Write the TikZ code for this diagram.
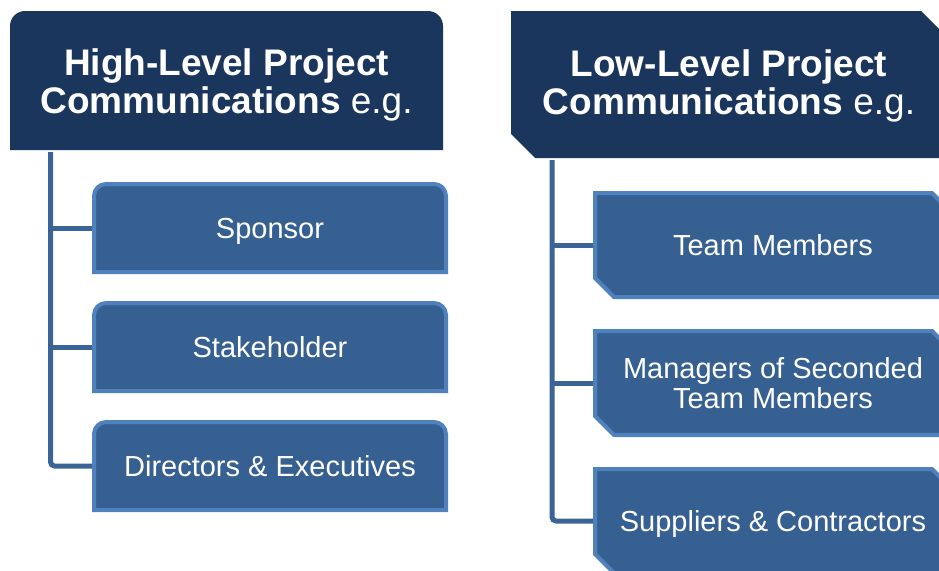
\documentclass[tikz,border=0pt]{standalone}
\usepackage{fontspec}
\setmainfont{Liberation Sans}
\usepackage{tikz}
\usetikzlibrary{calc,positioning}
\definecolor{hdrblue}{RGB}{27,54,93}
\definecolor{boxblue}{RGB}{54,96,146}
\definecolor{rimblue}{RGB}{79,129,189}
\definecolor{linkblue}{RGB}{59,100,150}
\tikzset{
	hdr/.style={fill=hdrblue},
	item/.style={fill=boxblue, draw=rimblue, line width=4pt},
	hdrtext/.style={text=white, align=center, inner sep=0pt, font=\fontsize{37}{38}\selectfont\bfseries},
	itemtext/.style={text=white, align=center, inner sep=0pt, minimum width=356pt, font=\fontsize{29}{30}\selectfont},
	link/.style={draw=linkblue, line width=5pt, rounded corners=4pt}
}

\begin{document}
\begin{tikzpicture}[x=1pt,y=1pt]
		\useasboundingbox (0,0) rectangle (939,-570); \clip (0,0) rectangle (939,-570);
		% headers
		\fill[hdr] (10,-150) -- (10,-26) arc (180:90:15) -- (428,-11) arc (90:0:15) -- (443,-150) -- cycle;
		\fill[hdr] (511,-11) -- (921,-11) -- (947,-37) -- (947,-158) -- (535,-158) -- (511,-134) -- cycle;
		\node[hdrtext] (high) at (226.5,-84.5) {High-Level Project\\Communications {\mdseries e.g.}};
		\node[hdrtext] (low) at (729,-85.5) {Low-Level Project\\Communications {\mdseries e.g.}};

		% left column
		\draw[item] (94,-272) -- (94,-196) arc (180:90:12) -- (434,-184) arc (90:0:12) -- (446,-272) -- cycle; \node[itemtext, minimum height=92pt, text depth=0pt] (sponsor) at (270,-228) {Sponsor};
		\draw[item] (94,-391) -- (94,-315) arc (180:90:12) -- (434,-303) arc (90:0:12) -- (446,-391) -- cycle; \node[itemtext, minimum height=92pt, text depth=0pt] (stake) at (270,-347) {Stakeholder};
		\draw[item] (94,-510) -- (94,-434) arc (180:90:12) -- (434,-422) arc (90:0:12) -- (446,-510) -- cycle; \node[itemtext, minimum height=92pt, text depth=0pt] (direct) at (270,-466) {Directors \& Executives};

		% right column
		\draw[item] (595,-193) -- (932,-193) -- (951,-212) -- (951,-297) -- (614,-297) -- (595,-278) -- cycle; \node[itemtext, minimum width=360pt, minimum height=108pt, text depth=0pt] (team) at (773,-245) {Team Members};
		\draw[item] (595,-331) -- (932,-331) -- (951,-350) -- (951,-435) -- (614,-435) -- (595,-416) -- cycle; \node[itemtext, minimum width=360pt, minimum height=108pt] (manag) at (773,-383) {Managers of Seconded\\Team Members};
		\draw[item] (595,-469) -- (932,-469) -- (951,-488) -- (951,-573) -- (614,-573) -- (595,-554) -- cycle; \node[itemtext, minimum width=360pt, minimum height=108pt, text depth=0pt] (suppl) at (773,-521) {Suppliers \& Contractors};

		% connectors
		\coordinate (ltop) at (50.5,-152); \coordinate (rtop) at (552,-160);
		\draw[link] (ltop) |- (direct.west); \draw[link] (ltop |- sponsor.west) -- (sponsor.west); \draw[link] (ltop |- stake.west) -- (stake.west);
		\draw[link] (rtop) |- (suppl.west); \draw[link] (rtop |- team.west) -- (team.west); \draw[link] (rtop |- manag.west) -- (manag.west);
	\end{tikzpicture}
\end{document}
